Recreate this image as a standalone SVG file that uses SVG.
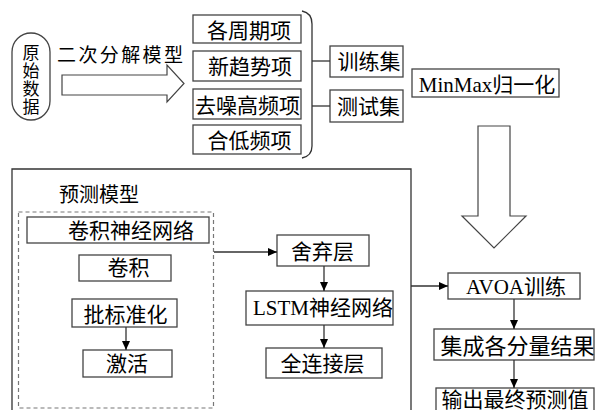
<svg xmlns="http://www.w3.org/2000/svg" width="595" height="410" viewBox="0 0 595 410">
<defs>
<marker id="ah" markerWidth="10" markerHeight="8" refX="9" refY="4" orient="auto" markerUnits="userSpaceOnUse">
<path d="M0,0 L9,4 L0,8 Z" fill="#000"/>
</marker>
<style>
.b{fill:#fff;stroke:#444;stroke-width:1.3}
.t{font-family:"Liberation Serif","Noto Sans CJK SC",serif;font-size:21px;fill:#000;text-anchor:middle}
.c{fill:none;stroke:#333;stroke-width:1.3}
.h{fill:#fff;stroke:#444;stroke-width:1.2}
</style>
</defs>
<rect width="595" height="410" fill="#fff"/>

<g id="raw">
<rect class="b" x="12" y="33" width="38" height="87" rx="19" ry="19"/>
<text class="t" style="font-size:17px" x="31" y="59">原</text>
<text class="t" style="font-size:17px" x="31" y="77">始</text>
<text class="t" style="font-size:17px" x="31" y="95">数</text>
<text class="t" style="font-size:17px" x="31" y="113">据</text>
</g>

<g id="decomp-arrow">
<path class="h" d="M62,75 L167,75 L167,65 L184,83.5 L167,102 L167,95 L62,95 Z"/>
<text class="t" style="font-size:19px;text-anchor:start" x="57" y="62" textLength="126" lengthAdjust="spacing">二次分解模型</text>
</g>

<g id="n1"><rect class="b" x="193" y="15" width="108" height="28"/><text class="t" x="249" y="37.5">各周期项</text></g>
<g id="n2"><rect class="b" x="193" y="51" width="108" height="30"/><text class="t" x="250" y="74">新趋势项</text></g>
<g id="n3"><rect class="b" x="193" y="89" width="108" height="30"/><text class="t" x="247.5" y="113">去噪高频项</text></g>
<g id="n4"><rect class="b" x="193" y="125" width="108" height="29"/><text class="t" x="249.5" y="147.5">合低频项</text></g>

<g id="train"><rect class="b" x="330" y="46" width="73" height="31"/><text class="t" x="369" y="68.5">训练集</text></g>
<g id="test"><rect class="b" x="330" y="90" width="73" height="32"/><text class="t" x="368.5" y="113.5">测试集</text></g>

<g id="minmax"><rect class="b" x="412" y="69" width="147" height="28"/><text class="t" x="487" y="91.5">MinMax归一化</text></g>

<g id="down-arrow">
<path class="h" d="M478,126 L510,126 L510,216 L526,216 L494,248 L462,216 L478,216 Z"/>
</g>

<g id="predict-frame">
<path d="M12,411 L12,169 L411,169 L411,411" fill="none" stroke="#333" stroke-width="1.3"/>
<text class="t" style="font-size:20px;text-anchor:start" x="59" y="202">预测模型</text>
<rect x="18.5" y="212" width="195" height="196" fill="none" stroke="#777" stroke-width="1.2" stroke-dasharray="4,3"/>
</g>

<g id="cnn"><rect class="b" x="27" y="217" width="182" height="26"/><text class="t" x="131" y="237.5">卷积神经网络</text></g>
<g id="conv"><rect class="b" x="79" y="255" width="92" height="26"/><text class="t" x="128.5" y="275">卷积</text></g>
<g id="bn"><rect class="b" x="72" y="299" width="105" height="28"/><text class="t" x="125.5" y="322">批标准化</text></g>
<g id="act"><rect class="b" x="83" y="350" width="89" height="27"/><text class="t" x="127" y="371">激活</text></g>

<g id="drop"><rect class="b" x="277" y="235" width="92" height="31"/><text class="t" x="322.5" y="258.5">舍弃层</text></g>
<g id="lstm"><rect class="b" x="246" y="291" width="147" height="34"/><text class="t" x="323" y="314.5">LSTM神经网络</text></g>
<g id="fc"><rect class="b" x="266" y="348" width="116" height="30"/><text class="t" x="322.5" y="370.5">全连接层</text></g>

<g id="avoa"><rect class="b" x="448" y="273" width="132" height="26"/><text class="t" x="516" y="294">AVOA训练</text></g>
<g id="ensemble"><rect class="b" x="434" y="329" width="160" height="31"/><text class="t" style="font-size:22px" x="517.5" y="354">集成各分量结果</text></g>
<g id="output"><rect class="b" x="436" y="388" width="158" height="30"/><text class="t" style="font-size:21px" x="515" y="406.5">输出最终预测值</text></g>

<g id="connectors">
<path class="c" d="M302,11 Q312,13 312,24 L312,146 Q312,156 302,158"/>
<line class="c" x1="312" y1="61" x2="330" y2="61"/>
<line class="c" x1="312" y1="106" x2="330" y2="106"/>
<line class="c" x1="126" y1="327" x2="126" y2="350" marker-end="url(#ah)"/>
<line class="c" x1="214" y1="252" x2="277" y2="252" marker-end="url(#ah)"/>
<line class="c" x1="324" y1="266" x2="324" y2="291" marker-end="url(#ah)"/>
<line class="c" x1="324" y1="325" x2="324" y2="348" marker-end="url(#ah)"/>
<line class="c" x1="411" y1="286" x2="448" y2="286" marker-end="url(#ah)"/>
<line class="c" x1="514" y1="299" x2="514" y2="329" marker-end="url(#ah)"/>
<line class="c" x1="514" y1="360" x2="514" y2="388" marker-end="url(#ah)"/>
</g>
</svg>
